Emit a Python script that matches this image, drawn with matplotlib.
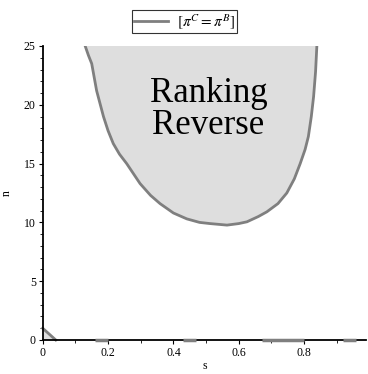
import matplotlib.pyplot as plt
import numpy as np

plt.rcParams['font.family'] = ['Liberation Serif', 'DejaVu Serif']
plt.rcParams['mathtext.fontset'] = 'stix'

# boundary of region where pi^C = pi^B
boundary_s = [0.130, 0.140, 0.150, 0.165, 0.186, 0.200, 0.216, 0.235, 0.257, 0.298,
              0.330, 0.359, 0.400, 0.441, 0.480, 0.512, 0.564, 0.600, 0.625, 0.660,
              0.686, 0.720, 0.747, 0.770, 0.788, 0.803, 0.813, 0.822, 0.829, 0.835, 0.839]
boundary_n = [25.0, 24.2, 23.5, 21.2, 19.0, 17.8, 16.7, 15.8, 15.0, 13.3,
              12.3, 11.6, 10.8, 10.3, 10.0, 9.9, 9.77, 9.9, 10.05, 10.5,
              10.9, 11.6, 12.5, 13.7, 15.0, 16.2, 17.3, 19.0, 20.7, 22.8, 25.0]

# small artefacts near the origin / along the s axis
corner_s = [0.0, 0.0, 0.04]
corner_n = [0.0, 1.0, 0.0]
axis_segments = [(0.16, 0.20), (0.43, 0.47), (0.67, 0.80), (0.92, 0.96)]

curve_color = '#7f7f7f'
fill_color = '#dedede'

fig = plt.figure(figsize=(3.68, 3.74), dpi=100)
ax = fig.add_axes([42.7 / 368, 34 / 374, 323.5 / 368, 294 / 374])

ax.fill(boundary_s, boundary_n, color=fill_color, lw=0)
line, = ax.plot(boundary_s, boundary_n, color=curve_color, lw=2,
                label=r'$\left[\pi^C = \pi^B\right]$')
ax.fill(corner_s, corner_n, color=fill_color, lw=0, clip_on=False)
ax.plot(corner_s[1:], corner_n[1:], color=curve_color, lw=2, clip_on=False)
for a, b in axis_segments:
    ax.plot([a, b], [0, 0], color=curve_color, lw=2.5, clip_on=False,
            solid_capstyle='butt', zorder=5)

ax.text(0.507, 21.0, 'Ranking', ha='center', va='center', fontsize=25)
ax.text(0.507, 18.2, 'Reverse', ha='center', va='center', fontsize=25)

ax.set_xlim(0, 0.99)
ax.set_ylim(0, 25)
ax.set_xticks([0, 0.2, 0.4, 0.6, 0.8])
ax.set_xticklabels(['0', '0.2', '0.4', '0.6', '0.8'])
ax.set_xticks(np.arange(0.1, 1.0, 0.2), minor=True)
ax.set_yticks([0, 5, 10, 15, 20, 25])
ax.set_yticks([v for v in range(26) if v % 5], minor=True)

for side in ['top', 'right']:
    ax.spines[side].set_visible(False)
for side in ['left', 'bottom']:
    ax.spines[side].set_linewidth(1.3)
ax.tick_params(labelsize=8.5, length=3, width=0.8, pad=2)
ax.tick_params(which='minor', length=2, width=0.6)

ax.set_xlabel('s', fontsize=8.5, labelpad=1)
ax.set_ylabel('n', fontsize=8.5, labelpad=8)

leg = fig.legend(handles=[line], loc='upper center', bbox_to_anchor=(184.5 / 368, 1 - 2 / 374),
                 fontsize=11, frameon=True, fancybox=False, edgecolor='black',
                 handlelength=2.2, borderpad=0.15, handletextpad=0.6)
leg.get_frame().set_linewidth(0.8)

fig.savefig('out.png', dpi=100)
